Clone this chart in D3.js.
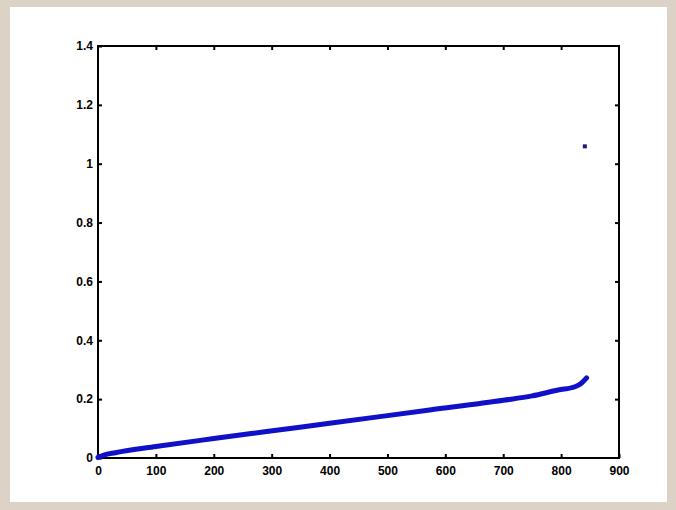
<!DOCTYPE html>
<html>
<head>
<meta charset="utf-8">
<script src="https://cdn.jsdelivr.net/npm/d3@7"></script>
<style>
  html, body { margin: 0; padding: 0; background: #dcd3c6; }
  svg { display: block; }
</style>
</head>
<body>
<svg id="chart" width="676" height="510"></svg>
<script>
// values
const xTicks = [0, 100, 200, 300, 400, 500, 600, 700, 800, 900];
const yTicks = [0, 0.2, 0.4, 0.6, 0.8, 1, 1.2, 1.4];
const curveX = [0, 10, 30, 100, 200, 288, 400, 500, 573, 700, 750, 795, 824, 835, 844];
const curveY = [0.002, 0.01, 0.018, 0.039, 0.066, 0.089, 0.118, 0.144, 0.163, 0.196, 0.211, 0.231, 0.242, 0.254, 0.272];
const outlierX = [841];
const outlierY = [1.059];

const svg = d3.select('#chart');

// white panel on the beige page
svg.append('rect')
   .attr('x', 10)
   .attr('y', 7)
   .attr('width', 657)
   .attr('height', 495)
   .attr('fill', '#ffffff');

let xScale = d3.scaleLinear()
               .domain([0, 900])
               .range([98, 619]);
let yScale = d3.scaleLinear()
               .domain([0, 1.4])
               .range([458, 46]);

function styleAxis(g, showText){
  g.select('.domain').remove();
  g.selectAll('line')
   .attr('stroke', '#000')
   .attr('stroke-width', 2);
  g.selectAll('text')
   .attr('fill', '#000')
   .attr('font-family', 'Liberation Sans, Arial, sans-serif')
   .attr('font-weight', 'bold')
   .attr('font-size', '12px');
  if(!showText) g.selectAll('text').remove();
}

svg.append('g')
   .attr('transform', 'translate(0,458)')
   .call(d3.axisBottom(xScale).tickValues(xTicks).tickSizeInner(-4).tickSizeOuter(0).tickPadding(8).tickFormat(d3.format('d')))
   .call(g => styleAxis(g, true));

svg.append('g')
   .attr('transform', 'translate(0,46)')
   .call(d3.axisTop(xScale).tickValues(xTicks.slice(1, -1)).tickSizeInner(-4).tickSizeOuter(0))
   .call(g => styleAxis(g, false));

svg.append('g')
   .attr('transform', 'translate(98,0)')
   .call(d3.axisLeft(yScale).tickValues(yTicks).tickSizeInner(-4).tickSizeOuter(0).tickPadding(5).tickFormat(d3.format('~g')))
   .call(g => styleAxis(g, true));

svg.append('g')
   .attr('transform', 'translate(619,0)')
   .call(d3.axisRight(yScale).tickValues(yTicks.slice(1, -1)).tickSizeInner(-4).tickSizeOuter(0))
   .call(g => styleAxis(g, false));

// plot box
svg.append('rect')
   .attr('x', xScale(0))
   .attr('y', yScale(1.4))
   .attr('width', xScale(900) - xScale(0))
   .attr('height', yScale(0) - yScale(1.4))
   .attr('fill', 'none')
   .attr('stroke', '#000')
   .attr('stroke-width', 2);

let curve = curveX.map((x, i) => ({x: x, y: curveY[i]}));
let lineFunction = d3.line()
                     .x(d => xScale(d.x))
                     .y(d => yScale(d.y))
                     .curve(d3.curveMonotoneX);
svg.append('path')
   .attr('d', lineFunction(curve))
   .attr('fill', 'none')
   .attr('stroke', '#1010c8')
   .attr('stroke-width', 5)
   .attr('stroke-linecap', 'round');

let outliers = outlierX.map((x, i) => ({x: x, y: outlierY[i]}));
svg.selectAll('.outlier')
   .data(outliers)
   .enter()
   .append('rect')
   .attr('class', 'outlier')
   .attr('x', d => xScale(d.x) - 2)
   .attr('y', d => yScale(d.y) - 2)
   .attr('width', 4)
   .attr('height', 4)
   .attr('fill', '#1c1a78');
</script>
</body>
</html>
